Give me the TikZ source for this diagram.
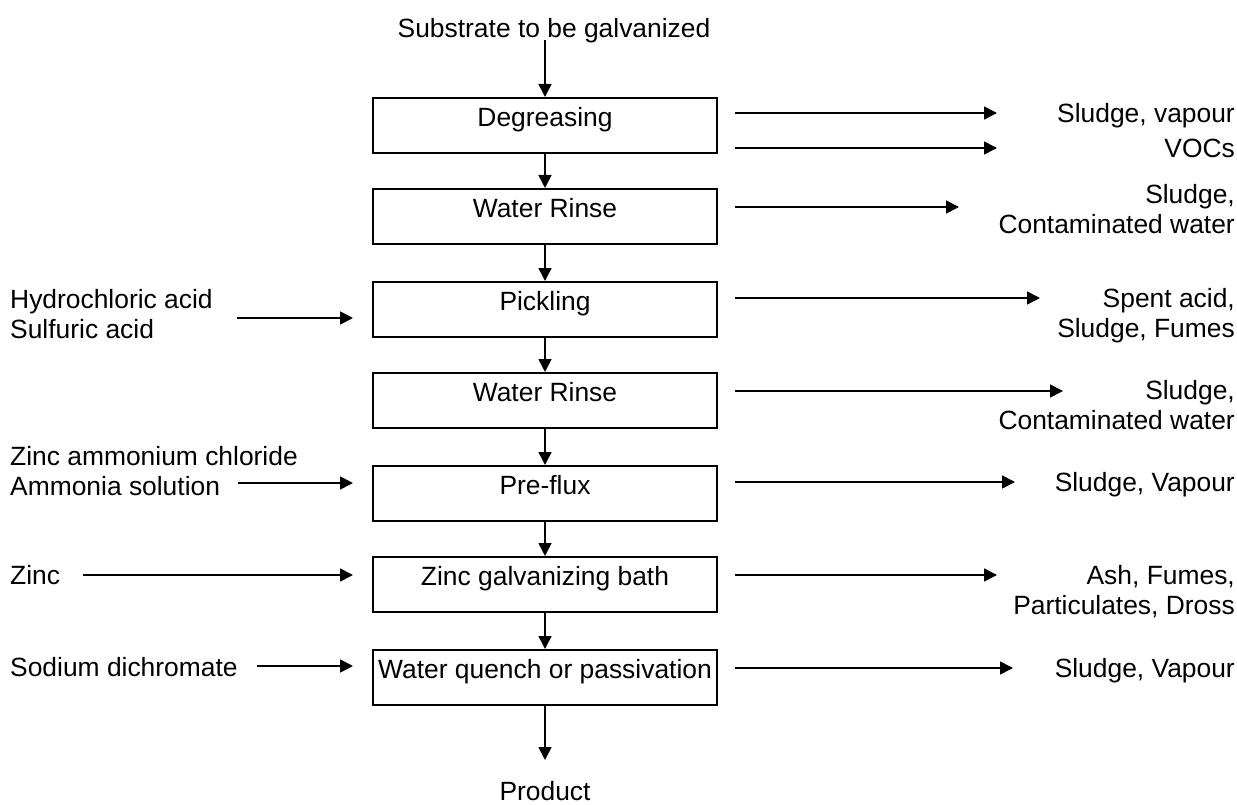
\documentclass[tikz,border=0pt]{standalone}
\usepackage{fontspec}
\setmainfont{Liberation Sans}
\usetikzlibrary{arrows.meta}
\begin{document}
\begin{tikzpicture}[x=1pt,y=-1pt,
  font=\fontsize{26.4pt}{30pt}\selectfont,
  box/.style={draw, line width=2pt, minimum width=344pt, inner sep=0pt,
    text height=28.5pt, text depth=26.5pt, anchor=north},
  flow/.style={line width=1.6pt, -{Triangle[length=13pt,width=13pt]}},
  lab/.style={inner sep=0pt}]
\useasboundingbox (0,0) rectangle (1237,805);

% process boxes
\node[box] (deg)  at (545,97)  {Degreasing};
\node[box] (rin1) at (545,188) {Water Rinse};
\node[box] (pick) at (545,281) {Pickling};
\node[box] (rin2) at (545,372) {Water Rinse};
\node[box] (pre)  at (545,465) {Pre-flux};
\node[box] (zinc) at (545,556) {Zinc galvanizing bath};
\node[box] (wq)   at (545,649) {Water quench or passivation};

% top and bottom
\node[lab, anchor=base] (sub) at (554,37.5) {Substrate to be galvanized};
\node[lab, anchor=base] (prod) at (545,800.5) {Product};
\coordinate (topin) at (545,40);
\coordinate (botout) at (545,760);
\draw[flow] (topin) -- (deg.north);
\draw[flow] (deg.south) -- (rin1.north);
\draw[flow] (rin1.south) -- (pick.north);
\draw[flow] (pick.south) -- (rin2.north);
\draw[flow] (rin2.south) -- (pre.north);
\draw[flow] (pre.south) -- (zinc.north);
\draw[flow] (zinc.south) -- (wq.north);
\draw[flow] (wq.south) -- (botout);

% left inputs (base = baseline of last line)
\node[lab, anchor=base west, align=left] (hcl) at (10,338.5) {Hydrochloric acid\\Sulfuric acid};
\node[lab, anchor=base west, align=left] (zac) at (10,495.5) {Zinc ammonium chloride\\Ammonia solution};
\node[lab, anchor=base west] (zn) at (10,584.5) {Zinc};
\node[lab, anchor=base west] (sd) at (10,676.5) {Sodium dichromate};
\coordinate (i1) at (237,318);
\coordinate (i2) at (238,483);
\coordinate (i3) at (83,575);
\coordinate (i4) at (257,666);
\draw[flow] (i1) -- ([xshift=-19pt]pick.west |- i1);
\draw[flow] (i2) -- ([xshift=-19pt]pre.west |- i2);
\draw[flow] (i3) -- ([xshift=-19pt]zinc.west |- i3);
\draw[flow] (i4) -- ([xshift=-19pt]wq.west |- i4);

% right outputs
\node[lab, anchor=base east, align=right] (o1) at (1235,157.5) {Sludge, vapour\\[5pt]VOCs};
\node[lab, anchor=base east, align=right] (o2) at (1235,233.5) {Sludge,\\Contaminated water};
\node[lab, anchor=base east, align=right] (o3) at (1235,337.5) {Spent acid,\\Sludge, Fumes};
\node[lab, anchor=base east, align=right] (o4) at (1235,429.5) {Sludge,\\Contaminated water};
\node[lab, anchor=base east] (o5) at (1235,491.5) {Sludge, Vapour};
\node[lab, anchor=base east, align=right] (o6) at (1235,614.5) {Ash, Fumes,\\Particulates, Dross};
\node[lab, anchor=base east] (o7) at (1235,677.5) {Sludge, Vapour};
\coordinate (e1a) at (997,113);
\coordinate (e1b) at (997,148);
\coordinate (e2) at (959,207);
\coordinate (e3) at (1040,298);
\coordinate (e4) at (1063,391);
\coordinate (e5) at (1015,482);
\coordinate (e6) at (997,575);
\coordinate (e7) at (1013,668);
\draw[flow] ([xshift=17pt]deg.east |- e1a) -- (e1a);
\draw[flow] ([xshift=17pt]deg.east |- e1b) -- (e1b);
\draw[flow] ([xshift=17pt]rin1.east |- e2) -- (e2);
\draw[flow] ([xshift=17pt]pick.east |- e3) -- (e3);
\draw[flow] ([xshift=17pt]rin2.east |- e4) -- (e4);
\draw[flow] ([xshift=17pt]pre.east |- e5) -- (e5);
\draw[flow] ([xshift=17pt]zinc.east |- e6) -- (e6);
\draw[flow] ([xshift=17pt]wq.east |- e7) -- (e7);
\end{tikzpicture}
\end{document}
